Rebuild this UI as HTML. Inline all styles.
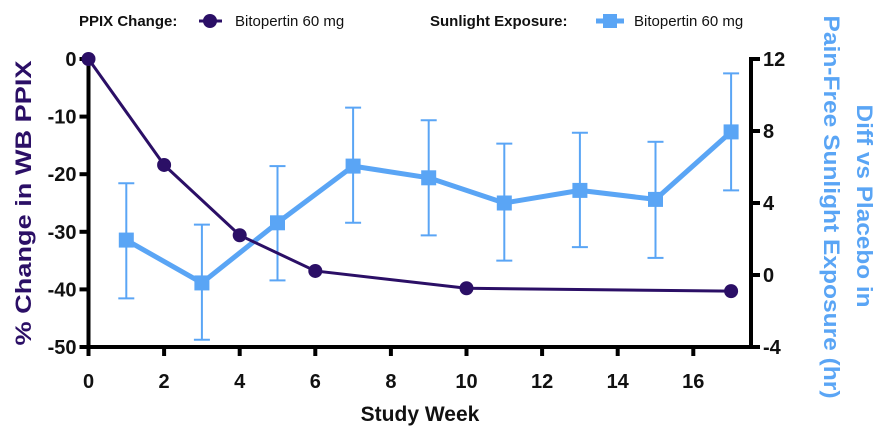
<!DOCTYPE html>
<html><head><meta charset="utf-8"><style>
body{margin:0;background:#fff}
svg{display:block;font-family:"Liberation Sans",Arial,sans-serif}
</style></head><body>
<svg id="chart" width="880" height="432" viewBox="0 0 880 432">
<g id="legend">
 <g>
  <text x="79" y="26" font-size="15" font-weight="bold" fill="#111">PPIX Change:</text>
  <line x1="199" y1="21" x2="222" y2="21" stroke="#2b0f66" stroke-width="3"/>
  <circle cx="210" cy="21" r="7" fill="#2b0f66"/>
  <text x="235" y="26" font-size="15" fill="#111">Bitopertin 60 mg</text>
 </g>
 <g>
  <text x="430" y="26" font-size="15" font-weight="bold" fill="#111">Sunlight Exposure:</text>
  <line x1="596" y1="21" x2="624" y2="21" stroke="#5aa5f5" stroke-width="5"/>
  <rect x="603" y="14" width="14" height="14" fill="#5aa5f5"/>
  <text x="634" y="26" font-size="15" fill="#111">Bitopertin 60 mg</text>
 </g>
</g>
<g id="axes"></g>
<g id="marks"></g>
<text x="420" y="421" font-size="21" font-weight="bold" text-anchor="middle" fill="#111">Study Week</text>
<text transform="translate(31,203) rotate(-90)" font-size="22" font-weight="bold" text-anchor="middle" fill="#2b0f66" textLength="285" lengthAdjust="spacingAndGlyphs">% Change in WB PPIX</text>
<g transform="rotate(90)">
 <text x="206" y="-857" font-size="22" font-weight="bold" text-anchor="middle" fill="#5aa5f5" textLength="203" lengthAdjust="spacingAndGlyphs">Diff vs Placebo in</text>
 <text x="207" y="-824" font-size="22" font-weight="bold" text-anchor="middle" fill="#5aa5f5" textLength="383" lengthAdjust="spacingAndGlyphs">Pain-Free Sunlight Exposure (hr)</text>
</g>
</svg>
<script>
const xTicks=[0,2,4,6,8,10,12,14,16];
const leftTicks=[0,-10,-20,-30,-40,-50];
const rightTicks=[12,8,4,0,-4];
const ppixWeeks=[0,2,4,6,10,17];
const ppixValues=[0,-18.4,-30.6,-36.8,-39.8,-40.3];
const sunWeeks=[1,3,5,7,9,11,13,15,17];
const sunValues=[1.94,-0.44,2.9,6.05,5.4,4.0,4.7,4.2,7.95];
const sunUpper=[5.1,2.8,6.05,9.3,8.6,7.3,7.9,7.4,11.2];
const sunLower=[-1.3,-3.6,-0.3,2.9,2.2,0.8,1.55,0.95,4.7];

const NS='http://www.w3.org/2000/svg';
const X=w=>88.5+w*37.8;
const YL=v=>59-v*5.76;
const YR=v=>275-v*18;
const axes=document.getElementById('axes'),marks=document.getElementById('marks');
function mk(tag,attrs,parent){const e=document.createElementNS(NS,tag);for(const k in attrs)e.setAttribute(k,attrs[k]);parent.appendChild(e);return e;}
const AX0=88.5,AX1=751,AY0=347;
let e;
e=mk('line',{x1:AX0-2,y1:AY0,x2:AX1+2,y2:AY0,stroke:'#000','stroke-width':4},axes);


e=mk('line',{x1:AX0,y1:57,x2:AX0,y2:AY0+2,stroke:'#000','stroke-width':4},axes);


e=mk('line',{x1:AX1,y1:57,x2:AX1,y2:AY0+2,stroke:'#000','stroke-width':4},axes);


xTicks.forEach(t=>{
 mk('line',{x1:X(t),y1:AY0,x2:X(t),y2:AY0+9,stroke:'#000','stroke-width':4},axes);
 e=mk('text',{x:X(t),y:388,'font-size':20,'font-weight':'bold','text-anchor':'middle',fill:'#111'},axes);
 e.textContent=t;
 
 
});
leftTicks.forEach(t=>{
 mk('line',{x1:AX0-9,y1:YL(t),x2:AX0,y2:YL(t),stroke:'#000','stroke-width':4},axes);
 e=mk('text',{x:AX0-12,y:YL(t)+7,'font-size':20,'font-weight':'bold','text-anchor':'end',fill:'#111'},axes);
 e.textContent=t;
 
 
});
rightTicks.forEach(t=>{
 mk('line',{x1:AX1,y1:YR(t),x2:AX1+9,y2:YR(t),stroke:'#000','stroke-width':4},axes);
 e=mk('text',{x:AX1+12,y:YR(t)+7,'font-size':20,'font-weight':'bold','text-anchor':'start',fill:'#111'},axes);
 e.textContent=t;
 
 
});
sunWeeks.forEach((w,i)=>{
 const g=mk('g',{stroke:'#5aa5f5','stroke-width':2},marks);
 
 
 mk('line',{x1:X(w),y1:YR(sunUpper[i]),x2:X(w),y2:YR(sunLower[i])},g);
 mk('line',{x1:X(w)-8,y1:YR(sunUpper[i]),x2:X(w)+8,y2:YR(sunUpper[i])},g);
 mk('line',{x1:X(w)-8,y1:YR(sunLower[i]),x2:X(w)+8,y2:YR(sunLower[i])},g);
});
e=mk('polyline',{points:sunWeeks.map((w,i)=>X(w)+','+YR(sunValues[i])).join(' '),fill:'none',stroke:'#5aa5f5','stroke-width':5,'stroke-linejoin':'round'},marks);


sunWeeks.forEach((w,i)=>{
 e=mk('rect',{x:X(w)-7.5,y:YR(sunValues[i])-7.5,width:15,height:15,fill:'#5aa5f5'},marks);
 
 
});
e=mk('polyline',{points:ppixWeeks.map((w,i)=>X(w)+','+YL(ppixValues[i])).join(' '),fill:'none',stroke:'#2b0f66','stroke-width':3},marks);


ppixWeeks.forEach((w,i)=>{
 e=mk('circle',{cx:X(w),cy:YL(ppixValues[i]),r:7,fill:'#2b0f66'},marks);
 
 
});
</script>
</body></html>
